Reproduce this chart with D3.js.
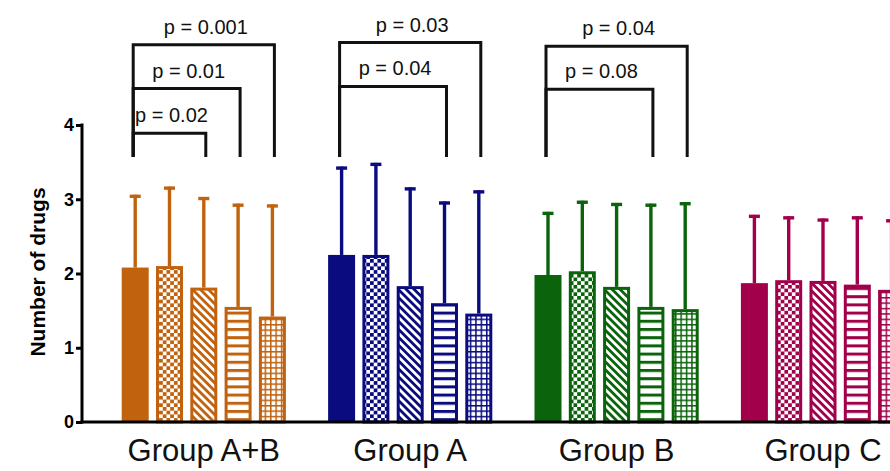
<!DOCTYPE html>
<html>
<head>
<meta charset="utf-8">
<script src="https://cdn.jsdelivr.net/npm/d3@7"></script>
<style>
  html, body { margin: 0; padding: 0; background: #fff; }
  svg { display: block; font-family: "Liberation Sans", Arial, Helvetica, sans-serif; }
</style>
</head>
<body>
<svg id="chart" width="890" height="471"></svg>
<script>
// ---------- DATA ----------
const groups = ["Group A+B", "Group A", "Group B", "Group C"];
const series = ["s1", "s2", "s3", "s4", "s5"];
const patterns = ["solid", "checker", "diag", "hstripe", "grid"];
const groupColors = ["#c0620e", "#0b0b80", "#0b640b", "#a2004b"];

// mean values per group (rows) and series (columns)
const means = [
  [2.08, 2.10, 1.81, 1.55, 1.42],
  [2.25, 2.25, 1.83, 1.60, 1.46],
  [1.98, 2.03, 1.82, 1.55, 1.52],
  [1.87, 1.91, 1.90, 1.85, 1.78]
];
// upper end of error bars (mean + SD)
const upper = [
  [3.06, 3.17, 3.03, 2.94, 2.93],
  [3.44, 3.49, 3.16, 2.97, 3.12],
  [2.83, 2.98, 2.95, 2.94, 2.96],
  [2.79, 2.77, 2.74, 2.77, 2.73]
];
const yTicks = [0, 1, 2, 3, 4];
const yLabel = "Number of drugs";

// significance brackets
const bracketGroup = ["Group A+B", "Group A+B", "Group A+B", "Group A", "Group A", "Group B", "Group B"];
const bracketFrom  = [0, 0, 0, 0, 0, 0, 0];
const bracketTo    = [4, 3, 2, 4, 3, 4, 3];
const bracketLevel = [5.08, 4.49, 3.89, 5.11, 4.52, 5.06, 4.48];
const bracketText  = ["p = 0.001", "p = 0.01", "p = 0.02", "p = 0.03", "p = 0.04", "p = 0.04", "p = 0.08"];
const bracketBase  = 3.57;

// ---------- LAYOUT ----------
const svg = d3.select("#chart");
const W = 890, H = 471;
const axisX = 82;

const y = d3.scaleLinear().domain([0, 4]).range([422, 125]);

const x0 = d3.scaleBand()
  .domain(groups)
  .range([100.6, 926.2])
  .paddingInner(0.2045)
  .paddingOuter(0.10225);

const x1 = d3.scaleBand()
  .domain(series)
  .range([0, x0.bandwidth()])
  .paddingInner(0.213)
  .paddingOuter(0);

// ---------- PATTERNS ----------
const defs = svg.append("defs");
groupColors.forEach((c, gi) => {
  // checkerboard
  const ck = defs.append("pattern").attr("id", `checker${gi}`)
    .attr("patternUnits", "userSpaceOnUse").attr("width", 7.4).attr("height", 7.4);
  ck.append("rect").attr("width", 7.4).attr("height", 7.4).attr("fill", "#fff");
  ck.append("rect").attr("width", 3.7).attr("height", 3.7).attr("fill", c);
  ck.append("rect").attr("x", 3.7).attr("y", 3.7).attr("width", 3.7).attr("height", 3.7).attr("fill", c);

  // diagonal stripes "\"
  const dg = defs.append("pattern").attr("id", `diag${gi}`)
    .attr("patternUnits", "userSpaceOnUse").attr("width", 5.6).attr("height", 5.6)
    .attr("patternTransform", "rotate(45)");
  dg.append("rect").attr("width", 5.6).attr("height", 5.6).attr("fill", "#fff");
  dg.append("rect").attr("width", 5.6).attr("height", 2.8).attr("fill", c);

  // horizontal stripes
  const hs = defs.append("pattern").attr("id", `hstripe${gi}`)
    .attr("patternUnits", "userSpaceOnUse").attr("width", 8).attr("height", 8.2);
  hs.append("rect").attr("width", 8).attr("height", 8.2).attr("fill", "#fff");
  hs.append("rect").attr("y", 0).attr("width", 8).attr("height", 3).attr("fill", c);

  // grid
  const gr = defs.append("pattern").attr("id", `grid${gi}`)
    .attr("patternUnits", "userSpaceOnUse").attr("width", 5.4).attr("height", 5.4);
  gr.append("rect").attr("width", 5.4).attr("height", 5.4).attr("fill", "#fff");
  gr.append("rect").attr("width", 1.5).attr("height", 5.4).attr("fill", c);
  gr.append("rect").attr("width", 5.4).attr("height", 1.5).attr("fill", c);
});

// ---------- BARS ----------
const flat = [];
groups.forEach((g, gi) => series.forEach((s, si) => {
  flat.push({ g, gi, s, si, mean: means[gi][si], up: upper[gi][si] });
}));

const barG = svg.append("g");
const bw = x1.bandwidth();
const sw = 3;

// error bars (drawn behind bars)
const err = barG.selectAll("g.err").data(flat).join("g").attr("class", "err");
err.append("line")
  .attr("x1", d => x0(d.g) + x1(d.s) + bw / 2)
  .attr("x2", d => x0(d.g) + x1(d.s) + bw / 2)
  .attr("y1", d => y(d.mean))
  .attr("y2", d => y(d.up))
  .attr("stroke", d => groupColors[d.gi]).attr("stroke-width", 3.4);
err.append("line")
  .attr("x1", d => x0(d.g) + x1(d.s) + bw / 2 - 5.5)
  .attr("x2", d => x0(d.g) + x1(d.s) + bw / 2 + 5.5)
  .attr("y1", d => y(d.up) + 1.5)
  .attr("y2", d => y(d.up) + 1.5)
  .attr("stroke", d => groupColors[d.gi]).attr("stroke-width", 3.4);

barG.selectAll("rect.bar").data(flat).join("rect").attr("class", "bar")
  .attr("x", d => x0(d.g) + x1(d.s) + (d.si === 0 ? 0 : sw / 2))
  .attr("y", d => y(d.mean) + (d.si === 0 ? 0 : sw / 2))
  .attr("width", d => d.si === 0 ? bw : bw - sw)
  .attr("height", d => y(0) - y(d.mean) - (d.si === 0 ? 0 : sw / 2))
  .attr("fill", d => d.si === 0 ? groupColors[d.gi] : `url(#${patterns[d.si]}${d.gi})`)
  .attr("stroke", d => d.si === 0 ? "none" : groupColors[d.gi])
  .attr("stroke-width", sw);

// ---------- AXES ----------
const yAxis = svg.append("g")
  .attr("transform", `translate(${axisX},0)`)
  .call(d3.axisLeft(y).tickValues(yTicks).tickFormat(d3.format("d")).tickSize(6).tickPadding(2));
yAxis.select(".domain").remove();
yAxis.selectAll(".tick line").attr("stroke", "#000").attr("stroke-width", 3);
yAxis.selectAll(".tick text")
  .attr("font-size", 18).attr("font-weight", "bold").attr("fill", "#000")
  .attr("font-family", "'Liberation Sans', Arial, sans-serif");
yAxis.append("line")
  .attr("x1", 0).attr("x2", 0).attr("y1", y(4) - 1.5).attr("y2", y(0) + 1.5)
  .attr("stroke", "#000").attr("stroke-width", 3);

// x axis line
svg.append("line")
  .attr("x1", axisX - 1.5).attr("x2", W).attr("y1", y(0)).attr("y2", y(0))
  .attr("stroke", "#000").attr("stroke-width", 3);

// group labels
svg.append("g").selectAll("text").data(groups).join("text")
  .attr("x", g => x0(g) + x0.bandwidth() / 2)
  .attr("y", 461)
  .attr("text-anchor", "middle")
  .attr("font-size", 31)
  .attr("fill", "#111")
  .text(g => g);

// y label
svg.append("text")
  .attr("transform", `translate(45, 272) rotate(-90)`)
  .attr("text-anchor", "middle")
  .attr("font-size", 21)
  .attr("font-weight", "bold")
  .attr("fill", "#000")
  .text(yLabel);

// ---------- BRACKETS ----------
const brG = svg.append("g");
bracketText.forEach((t, i) => {
  const g = bracketGroup[i];
  const xl = x0(g) + x1(series[bracketFrom[i]]) + bw / 2 - 2;
  const xr = x0(g) + x1(series[bracketTo[i]]) + bw / 2 + 2;
  const yl = y(bracketLevel[i]);
  const yb = y(bracketBase);
  brG.append("path")
    .attr("d", `M${xl},${yb} L${xl},${yl} L${xr},${yl} L${xr},${yb}`)
    .attr("fill", "none").attr("stroke", "#111").attr("stroke-width", 3)
    .attr("stroke-linejoin", "miter");
  brG.append("text")
    .attr("x", (xl + xr) / 2 + 2)
    .attr("y", yl - 11)
    .attr("text-anchor", "middle")
    .attr("font-size", 20)
    .attr("fill", "#111")
    .text(t);
});
</script>
</body>
</html>
